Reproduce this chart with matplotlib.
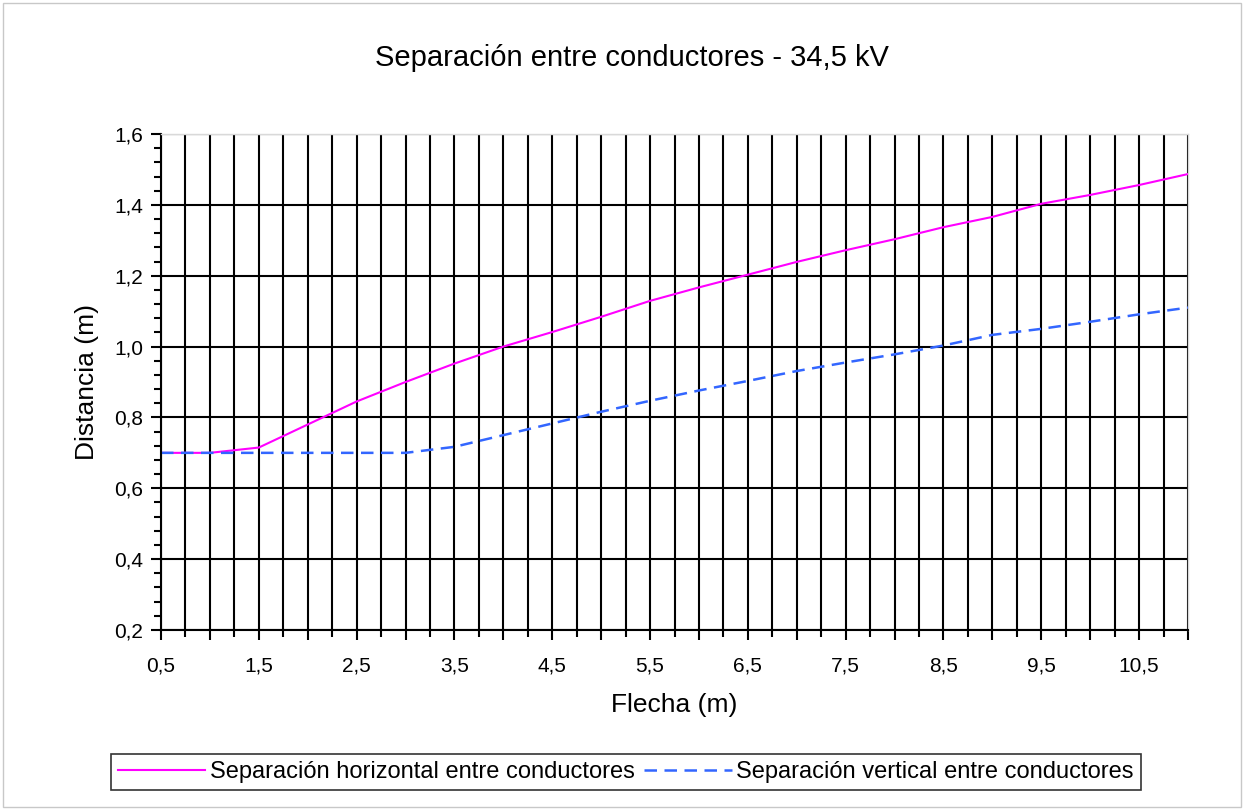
import matplotlib
matplotlib.use("Agg")
import matplotlib.pyplot as plt
from matplotlib.ticker import MultipleLocator, FuncFormatter
from matplotlib.patches import Rectangle

plt.rcParams["font.family"] = ["Liberation Sans", "DejaVu Sans"]

# flecha (m)
flecha = [0.5, 1.0, 1.5, 2.0, 2.5, 3.0, 3.5, 4.0, 4.5, 5.0, 5.5,
          6.0, 6.5, 7.0, 7.5, 8.0, 8.5, 9.0, 9.5, 10.0, 10.5, 11.0]

# separación horizontal (m)
sep_horizontal = [0.70, 0.70, 0.715, 0.78, 0.845, 0.90, 0.952, 1.0, 1.041, 1.084, 1.129,
                  1.167, 1.203, 1.239, 1.272, 1.303, 1.337, 1.366, 1.403, 1.428, 1.456, 1.487]

# separación vertical (m)
sep_vertical = [0.70, 0.70, 0.70, 0.70, 0.70, 0.70, 0.717, 0.75, 0.783, 0.816, 0.847,
                0.876, 0.903, 0.931, 0.955, 0.978, 1.003, 1.033, 1.050, 1.070, 1.091, 1.110]

titulo = "Separación entre conductores - 34,5 kV"
nombres = ["Separación horizontal entre conductores",
           "Separación vertical entre conductores"]

fig = plt.figure(figsize=(12.44, 8.10), dpi=100)
ax = fig.add_axes([161 / 1244, 1 - 630 / 810, (1188 - 161) / 1244, (630 - 134) / 810])

ax.plot(flecha, sep_horizontal, color="#FF00FF", lw=1.5, label=nombres[0])
ax.plot(flecha, sep_vertical, color="#3366FF", lw=1.8, ls=(0, (5, 3)), label=nombres[1])

ax.set_xlim(0.5, 11.0)
ax.set_ylim(0.2, 1.6)

# ejes con coma decimal
coma = lambda v, p: f"{v:.1f}".replace(".", ",")
etiqueta_x = lambda v, p: coma(v, p) if abs((v - 0.5) % 1.0) < 1e-6 else ""
ax.xaxis.set_major_locator(MultipleLocator(0.5))
ax.xaxis.set_minor_locator(MultipleLocator(0.25))
ax.xaxis.set_major_formatter(FuncFormatter(etiqueta_x))
ax.yaxis.set_major_locator(MultipleLocator(0.2))
ax.yaxis.set_minor_locator(MultipleLocator(0.04))
ax.yaxis.set_major_formatter(FuncFormatter(coma))

ax.grid(True, which="both", axis="x", color="black", lw=1.5)
ax.grid(True, which="major", axis="y", color="black", lw=1.5)
ax.set_axisbelow(True)

ax.tick_params(axis="both", which="major", direction="out", length=7, width=1.5,
               labelsize=15, colors="black")
ax.tick_params(axis="both", which="minor", direction="out", length=5, width=1.5)
ax.tick_params(axis="x", which="major", pad=12)
ax.tick_params(axis="y", which="major", pad=6)

for lado in ["left", "bottom"]:
    ax.spines[lado].set_color("black")
    ax.spines[lado].set_linewidth(1.5)
for lado in ["top", "right"]:
    ax.spines[lado].set_color("#d9d9d9")
    ax.spines[lado].set_linewidth(1.0)

ax.set_xlabel("Flecha (m)", fontsize=19, labelpad=13)
ax.set_ylabel("Distancia (m)", fontsize=19, labelpad=11)

fig.text(632 / 1244, 1 - 58 / 810, titulo, ha="center", va="center", fontsize=21)

leg = fig.legend(loc="center", bbox_to_anchor=(626 / 1244, 1 - 772 / 810), ncol=2,
                 fontsize=17, frameon=True, fancybox=False, edgecolor="black",
                 handlelength=3.7, columnspacing=0.4, handletextpad=0.2,
                 borderpad=0.3)
leg.get_frame().set_linewidth(1.2)

# borde del gráfico
fig.patches.append(Rectangle((3 / 1244, 3 / 810), 1 - 6 / 1244, 1 - 6 / 810,
                             transform=fig.transFigure, fill=False,
                             edgecolor="#c8c8c8", lw=1.0))

fig.savefig("out.png", dpi=100)
